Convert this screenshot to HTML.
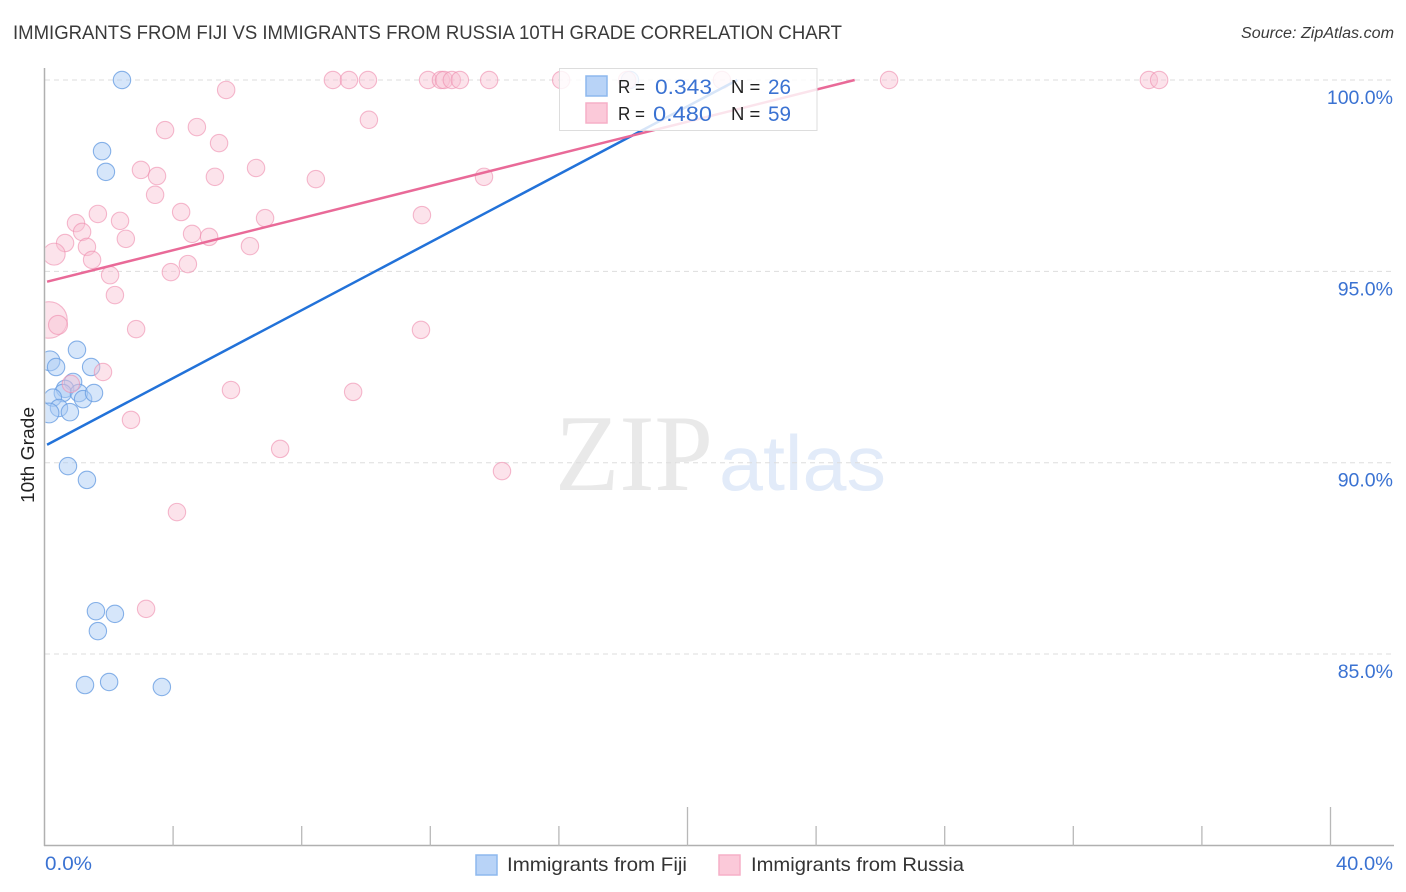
<!DOCTYPE html>
<html lang="en">
<head>
<meta charset="utf-8">
<title>Immigrants from Fiji vs Immigrants from Russia 10th Grade Correlation Chart</title>
<style>
html,body{margin:0;padding:0;background:#fff;width:1406px;height:892px;overflow:hidden}
svg{display:block;font-family:"Liberation Sans",sans-serif}
</style>
</head>
<body>
<svg id="chart" xmlns="http://www.w3.org/2000/svg" width="1406" height="892" viewBox="0 0 1406 892">
  <defs>
    <clipPath id="plot-clip"><rect x="45.5" y="60" width="1349" height="786"/></clipPath>
  </defs>
  <rect x="0" y="0" width="1406" height="892" fill="#fff"/>
  <text x="13" y="39" font-size="19" fill="#3a3a3a" textLength="829" lengthAdjust="spacingAndGlyphs">IMMIGRANTS FROM FIJI VS IMMIGRANTS FROM RUSSIA 10TH GRADE CORRELATION CHART</text>
  <text x="1241" y="38" font-size="15.5" font-style="italic" fill="#3a3a3a" textLength="153" lengthAdjust="spacingAndGlyphs">Source: ZipAtlas.com</text>
  <g>
    <text x="555" y="490" font-family="'Liberation Serif',serif" font-size="109" fill="#e9e9e9" textLength="158" lengthAdjust="spacingAndGlyphs">ZIP</text>
    <text x="719" y="490" font-size="78" fill="#e2ebf9" textLength="167" lengthAdjust="spacingAndGlyphs">atlas</text>
  </g>
  <g id="grid"></g>
  <g id="axes"></g>
  <text transform="translate(34,503) rotate(-90)" font-size="18.5" fill="#222" textLength="96" lengthAdjust="spacingAndGlyphs">10th Grade</text>
  <g id="points" clip-path="url(#plot-clip)"></g>
  <g id="trends"></g>
  <g>
    <rect x="559.5" y="68.5" width="257.5" height="62" fill="#fff" fill-opacity="0.82" stroke="#ddd" stroke-width="1"/>
    <rect x="586" y="76" width="21" height="20" fill="#b8d3f7" stroke="#8db8ee" stroke-width="1.5"/>
    <rect x="586" y="103" width="21" height="20" fill="#fbc9d9" stroke="#f6afc7" stroke-width="1.5"/>
    <text x="618" y="93" font-size="18.5" fill="#222" textLength="27" lengthAdjust="spacingAndGlyphs">R =</text>
    <text x="655" y="94" font-size="21" fill="#3a72d2" textLength="57" lengthAdjust="spacingAndGlyphs">0.343</text>
    <text x="731" y="93" font-size="18.5" fill="#222">N =</text>
    <text x="768" y="94" font-size="21" fill="#3a72d2" textLength="23" lengthAdjust="spacingAndGlyphs">26</text>
    <text x="618" y="120" font-size="18.5" fill="#222" textLength="27" lengthAdjust="spacingAndGlyphs">R =</text>
    <text x="653" y="121" font-size="21" fill="#3a72d2" textLength="59" lengthAdjust="spacingAndGlyphs">0.480</text>
    <text x="731" y="120" font-size="18.5" fill="#222">N =</text>
    <text x="768" y="121" font-size="21" fill="#3a72d2" textLength="23" lengthAdjust="spacingAndGlyphs">59</text>
  </g>
  <g>
    <rect x="476" y="855" width="21" height="20" fill="#b8d3f7" stroke="#8db8ee" stroke-width="1.5"/>
    <text x="507" y="871" font-size="19.5" fill="#333" textLength="180" lengthAdjust="spacingAndGlyphs">Immigrants from Fiji</text>
    <rect x="719" y="855" width="21" height="20" fill="#fbc9d9" stroke="#f6afc7" stroke-width="1.5"/>
    <text x="751" y="871" font-size="19.5" fill="#333" textLength="213" lengthAdjust="spacingAndGlyphs">Immigrants from Russia</text>
  </g>
</svg>
<script>
const fijiX = [2.41,1.79,1.91,0.17,0.36,1.01,1.45,0.89,0.64,0.57,0.26,1.07,1.20,1.54,0.45,0.79,0.14,0.73,1.32,1.60,2.19,1.66,1.26,2.01,3.65,18.21];
const fijiY = [100,98.14,97.60,92.66,92.50,92.95,92.50,92.11,91.93,91.82,91.70,91.82,91.66,91.82,91.43,91.32,91.30,89.91,89.55,86.12,86.05,85.60,84.19,84.27,84.14,100];
const fijiWeight = [1,1,1,1.3,1,1,1,1,1,1,1,1,1,1,1,1,1.3,1,1,1,1,1,1,1,1,1];
const russiaX = [8.97,9.47,10.06,11.93,12.33,12.43,12.67,12.92,13.83,16.07,18.12,21.07,26.27,34.35,34.67,5.65,10.09,3.75,4.74,5.43,3.00,3.50,3.44,5.30,6.58,8.44,13.67,1.66,4.25,2.35,0.98,1.17,6.86,11.74,2.53,4.59,5.12,0.64,1.32,6.39,0.30,1.48,4.46,3.93,2.04,2.19,0.14,0.42,2.85,11.71,1.82,5.80,9.60,0.82,2.69,7.33,14.23,4.12,3.16];
const russiaY = [100,100,100,100,100,100,100,100,100,100,100,100,100,100,100,99.74,98.96,98.69,98.77,98.35,97.65,97.49,97.00,97.47,97.70,97.41,97.47,96.50,96.55,96.32,96.26,96.03,96.39,96.47,95.85,95.98,95.90,95.74,95.64,95.66,95.45,95.30,95.19,94.98,94.90,94.38,93.73,93.60,93.49,93.47,92.37,91.90,91.85,92.06,91.12,90.36,89.78,88.71,86.18];
const russiaWeight = [1,1,1,1,1,1,1,1,1,1,1,1,1,1,1,1,1,1,1,1,1,1,1,1,1,1,1,1,1,1,1,1,1,1,1,1,1,1,1,1,1.6,1,1,1,1,1,4.4,1.2,1,1,1,1,1,1,1,1,1,1,1];
const fijiTrendX = [0.08,21.55];
const fijiTrendY = [90.47,100];
const russiaTrendX = [0.08,25.2];
const russiaTrendY = [94.73,100];
const yTickValues = [100,95,90,85];
const yTickLabels = ["100.0%","95.0%","90.0%","85.0%"];
const xTickValues = [4,8,12,16,20,24,28,32,36,40];
const xMajorTicks = [20,40];
const xEndValues = [0,40];
const xEndLabels = ["0.0%","40.0%"];

const NS = "http://www.w3.org/2000/svg";
const sx = v => 44.5 + v * 32.15;
const sy = v => 80 + (100 - v) * 38.27;
const baseR = 8.7;

const grid = document.getElementById("grid");
const axes = document.getElementById("axes");
const points = document.getElementById("points");
const trends = document.getElementById("trends");

yTickValues.forEach((v, i) => {
  const line = document.createElementNS(NS, "line");
  
  
  line.setAttribute("x1", 45);
  line.setAttribute("x2", 1394);
  line.setAttribute("y1", sy(v));
  line.setAttribute("y2", sy(v));
  line.setAttribute("stroke", "#ddd");
  line.setAttribute("stroke-width", "1");
  line.setAttribute("stroke-dasharray", "5 4");
  grid.appendChild(line);
  const label = document.createElementNS(NS, "text");
  
  
  label.setAttribute("x", 1393);
  label.setAttribute("y", sy(v) + 24);
  label.setAttribute("font-size", "19.5");
  label.setAttribute("fill", "#3a72d2");
  label.setAttribute("text-anchor", "end");
  label.textContent = yTickLabels[i];
  axes.appendChild(label);
});

const yAxis = document.createElementNS(NS, "line");


yAxis.setAttribute("x1", 44.5);
yAxis.setAttribute("x2", 44.5);
yAxis.setAttribute("y1", 68);
yAxis.setAttribute("y2", 846);
yAxis.setAttribute("stroke", "#b0b0b0");
yAxis.setAttribute("stroke-width", "1.5");
axes.appendChild(yAxis);

const xAxis = document.createElementNS(NS, "line");


xAxis.setAttribute("x1", 44);
xAxis.setAttribute("x2", 1394);
xAxis.setAttribute("y1", 845.5);
xAxis.setAttribute("y2", 845.5);
xAxis.setAttribute("stroke", "#b0b0b0");
xAxis.setAttribute("stroke-width", "1.5");
axes.appendChild(xAxis);

xTickValues.forEach(v => {
  const tick = document.createElementNS(NS, "line");
  
  
  tick.setAttribute("x1", sx(v));
  tick.setAttribute("x2", sx(v));
  tick.setAttribute("y1", xMajorTicks.includes(v) ? 807 : 826);
  tick.setAttribute("y2", 846);
  tick.setAttribute("stroke", "#b8b8b8");
  tick.setAttribute("stroke-width", "1.3");
  axes.appendChild(tick);
});

xEndValues.forEach((v, i) => {
  const label = document.createElementNS(NS, "text");
  
  
  label.setAttribute("x", i === 0 ? sx(v) + 0.5 : 1336);
  label.setAttribute("y", 870);
  label.setAttribute("font-size", "19.5");
  label.setAttribute("fill", "#3a72d2");
  label.setAttribute("textLength", i === 0 ? 47 : 57);
  label.setAttribute("lengthAdjust", "spacingAndGlyphs");
  label.textContent = xEndLabels[i];
  axes.appendChild(label);
});

fijiX.forEach((v, i) => {
  const c = document.createElementNS(NS, "circle");
  
  
  c.setAttribute("cx", sx(v));
  c.setAttribute("cy", sy(fijiY[i]));
  c.setAttribute("r", baseR * Math.sqrt(fijiWeight[i]));
  c.setAttribute("fill", "#a9cbf5");
  c.setAttribute("fill-opacity", "0.48");
  c.setAttribute("stroke", "#6a9fe2");
  c.setAttribute("stroke-opacity", "0.8");
  c.setAttribute("stroke-width", "1.1");
  points.appendChild(c);
});

russiaX.forEach((v, i) => {
  const c = document.createElementNS(NS, "circle");
  
  
  c.setAttribute("cx", sx(v));
  c.setAttribute("cy", sy(russiaY[i]));
  c.setAttribute("r", baseR * Math.sqrt(russiaWeight[i]));
  c.setAttribute("fill", "#f9c0d3");
  c.setAttribute("fill-opacity", "0.45");
  c.setAttribute("stroke", "#ee8cae");
  c.setAttribute("stroke-opacity", "0.6");
  c.setAttribute("stroke-width", "1.1");
  points.appendChild(c);
});

const fijiLine = document.createElementNS(NS, "line");


fijiLine.setAttribute("x1", sx(fijiTrendX[0]));
fijiLine.setAttribute("y1", sy(fijiTrendY[0]));
fijiLine.setAttribute("x2", sx(fijiTrendX[1]));
fijiLine.setAttribute("y2", sy(fijiTrendY[1]));
fijiLine.setAttribute("stroke", "#2272d9");
fijiLine.setAttribute("stroke-width", "2.5");
trends.appendChild(fijiLine);

const russiaLine = document.createElementNS(NS, "line");


russiaLine.setAttribute("x1", sx(russiaTrendX[0]));
russiaLine.setAttribute("y1", sy(russiaTrendY[0]));
russiaLine.setAttribute("x2", sx(russiaTrendX[1]));
russiaLine.setAttribute("y2", sy(russiaTrendY[1]));
russiaLine.setAttribute("stroke", "#e96a98");
russiaLine.setAttribute("stroke-width", "2.5");
trends.appendChild(russiaLine);
</script>
</body>
</html>
